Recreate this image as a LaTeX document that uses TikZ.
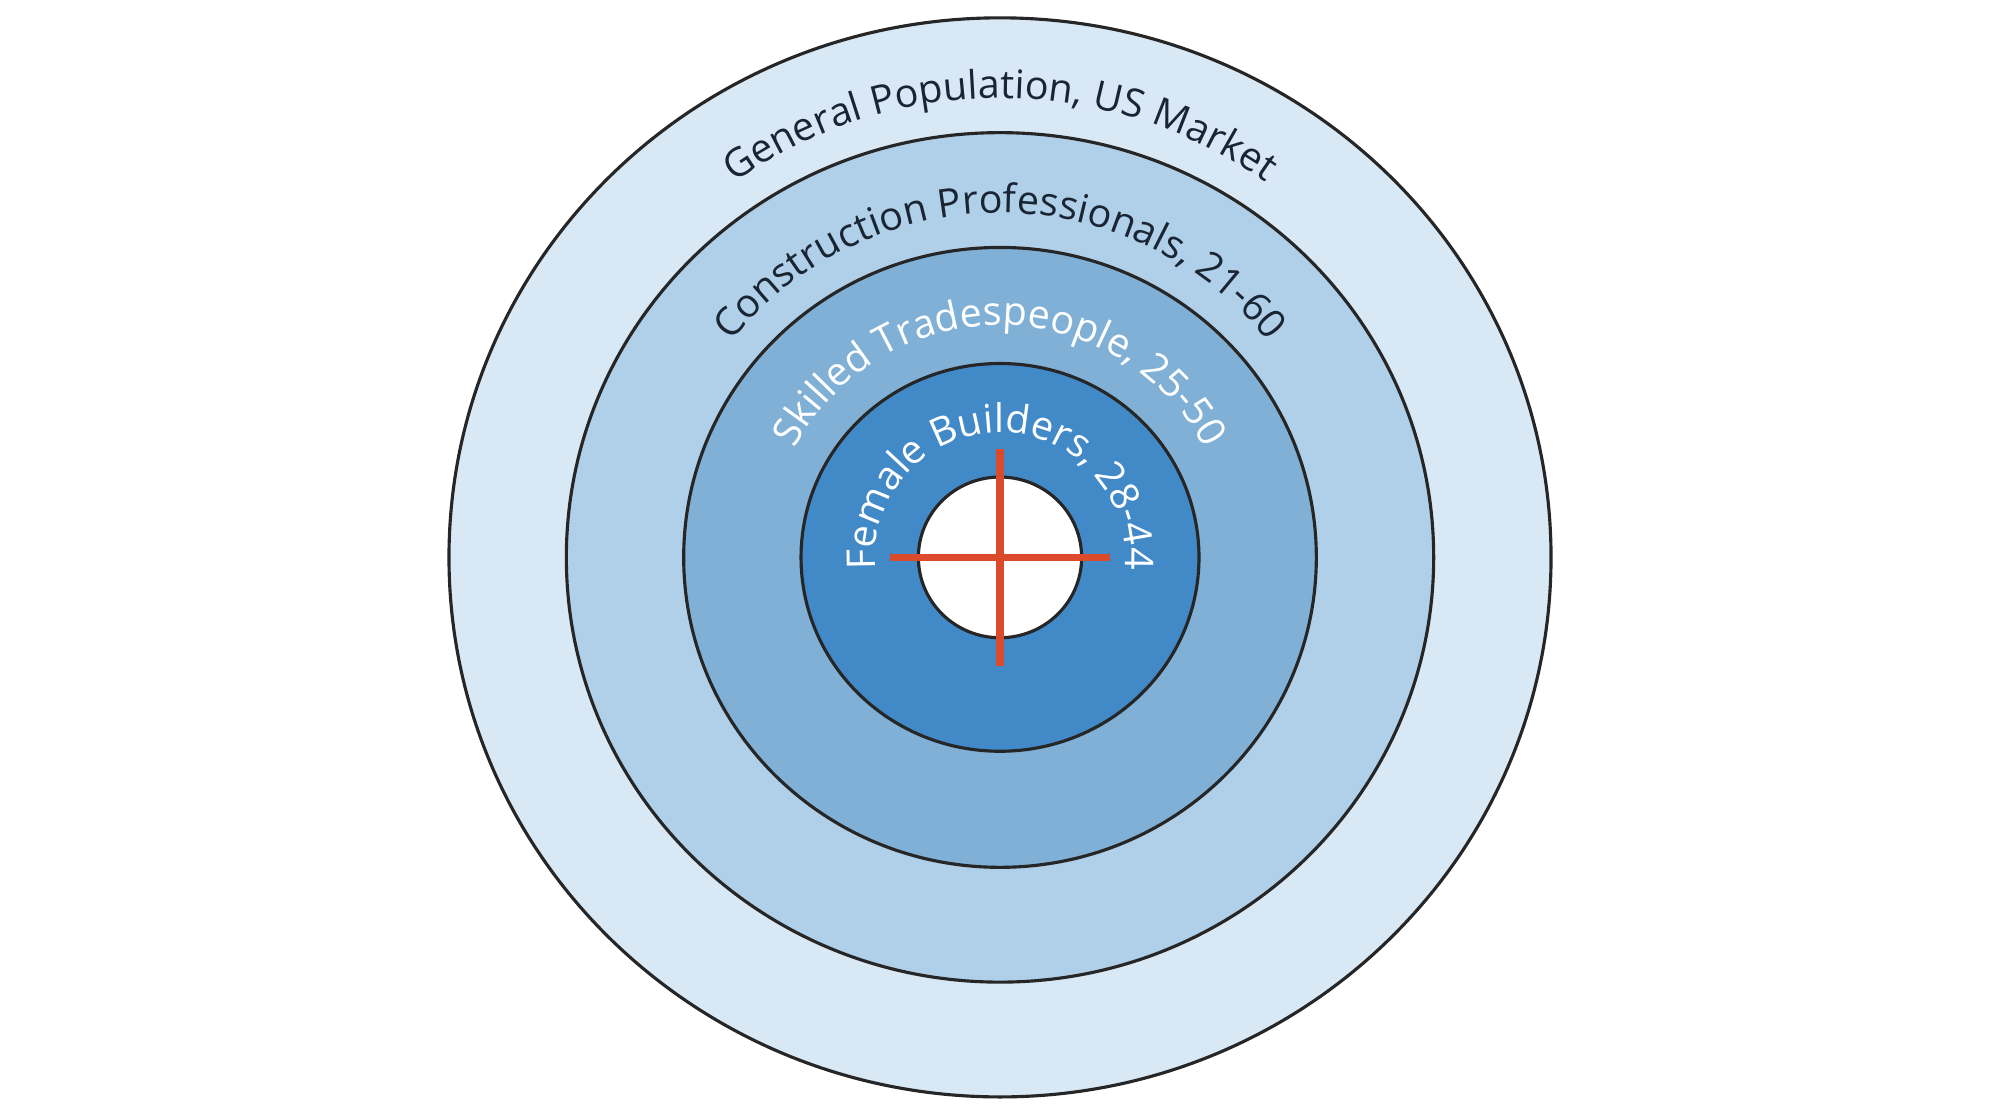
\documentclass[tikz,border=0pt]{standalone}
\usepackage{fontspec}
\setmainfont{Open Sans}
\usetikzlibrary{decorations.text}
\definecolor{ringA}{HTML}{D9E8F5}
\definecolor{ringB}{HTML}{B0CFE8}
\definecolor{ringC}{HTML}{80B0D5}
\definecolor{ringD}{HTML}{4289C8}
\definecolor{darktext}{HTML}{1A2533}
\definecolor{crossred}{HTML}{DC4A2C}
\tikzset{ring/.style={draw=black!85, line width=0.7pt},
         hair/.style={draw=crossred, line width=1.6pt}}
\newcommand{\ringtext}[5]{\path[decorate, decoration={text along path, text align=center,
    text={|\fontsize{8.8}{10}\selectfont\color{#2}|#5}}]
    (c) ++(#3:#1) arc (#3:#4:#1);}

\begin{document}
\begin{tikzpicture}
	\useasboundingbox (0,0) rectangle (15.68,8.75);
	\coordinate (c) at (7.84,4.38);

	\fill[ring, fill=ringA] (c) ellipse [x radius=4.32, y radius=4.23];
	\fill[ring, fill=ringB] (c) ellipse [x radius=3.40, y radius=3.33];
	\fill[ring, fill=ringC] (c) ellipse [x radius=2.48, y radius=2.43];
	\fill[ring, fill=ringD] (c) ellipse [x radius=1.56, y radius=1.52];
	\fill[ring, fill=white] (c) ellipse [x radius=0.64, y radius=0.63];

	\ringtext{3.60}{darktext}{180}{0}{General Population, US Market}
	\ringtext{2.70}{darktext}{180}{0}{Construction Professionals, 21-60}
	\ringtext{1.82}{white}{185}{-5}{Skilled Tradespeople, 25-50}
	\ringtext{0.98}{white}{210}{-30}{Female Builders, 28-44}

	\coordinate (hl) at (6.98,4.38);
	\coordinate (hr) at (8.70,4.38);
	\coordinate (vt) at (7.84,5.23);
	\coordinate (vb) at (7.84,3.53);
	\draw[hair] (hl) -- (hr);
	\draw[hair] (vt) -- (vb);
\end{tikzpicture}
\end{document}
